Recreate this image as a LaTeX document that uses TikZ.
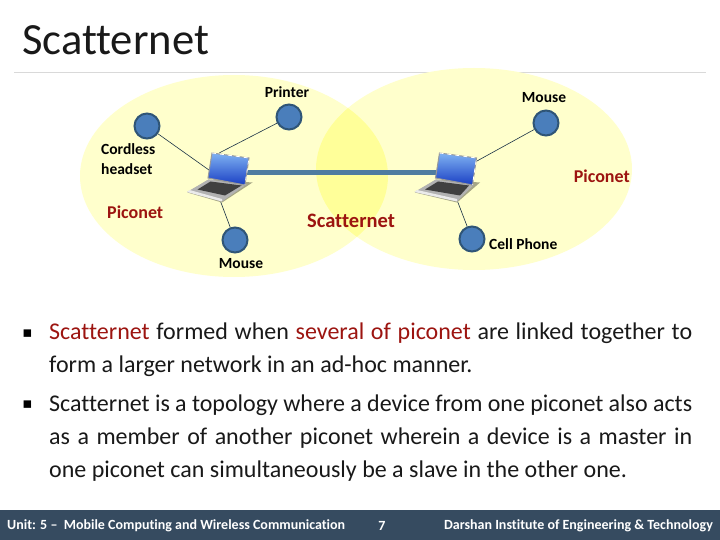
\documentclass[tikz,border=0pt]{standalone}
\usepackage{fontspec}
\setmainfont{Carlito}[Ligatures=NoCommon]
\newfontfamily\bulletfont{DejaVu Sans}
\usetikzlibrary{backgrounds}
\definecolor{piconetfill}{HTML}{FFFFCC}
\definecolor{overlapfill}{HTML}{FFFF99}
\definecolor{devicefill}{HTML}{4A7EBB}
\definecolor{devicerim}{HTML}{2F5577}
\definecolor{linkblue}{HTML}{4F7CA0}
\definecolor{wordred}{HTML}{9C1410}
\definecolor{barblue}{HTML}{364B60}
\definecolor{screentop}{HTML}{7FB2F2}
\definecolor{screenlow}{HTML}{1A3FC4}
\tikzstyle{slide}=[x=1pt, y=-1pt, font=\fontsize{14}{17}\selectfont]
\tikzstyle{device}=[circle, draw=devicerim, line width=2pt, fill=devicefill, minimum size=25pt, inner sep=0pt]
\tikzstyle{lbl}=[inner sep=0pt, align=left, text=black, font=\fontsize{15.5}{20}\selectfont\bfseries]
\tikzstyle{redlbl}=[lbl, text=wordred, font=\fontsize{18}{20}\selectfont\bfseries]
\tikzstyle{spoke}=[draw=black!40!devicerim, line width=0.6pt]
\tikzstyle{laptop}=[minimum width=65pt, minimum height=49pt, inner sep=0pt]
\tikzstyle{para}=[inner sep=0pt, anchor=north west, text width=643pt, align=justify, text=black!90, font=\fontsize{24}{33}\selectfont]
\tikzstyle{bul}=[inner sep=0pt, text=black, font=\bulletfont\fontsize{15}{20}\selectfont]
\tikzstyle{foot}=[inner sep=0pt, text=white, font=\fontsize{14}{17}\selectfont\bfseries]
\newcommand{\drawlaptop}[2]{
	\begin{scope}[shift={(#1)}]
		\fill[black!35!piconetfill] (-32,15) -- (-11,2) -- (33,5) -- (#2,25) -- cycle;
		\fill[black!30] (-32.5,14.5) -- (-11,2) -- (27,7) -- (#2,24) -- cycle;
		\fill[black!75] (-22,12) -- (-9,4) -- (22,8) -- ({#2+3},18) -- cycle;
		\fill[black!8] (-32.5,14.5) -- (#2,24) -- (#2,21.5) -- (-30,12.5) -- cycle;
		\shade[top color=screentop, bottom color=screenlow] (-7.5,-24.5) -- (29.5,-19.5) -- (25.5,7.5) -- (-11.5,0.5) -- cycle;
		\draw[black!40, line width=1pt] (-7.5,-24.5) -- (29.5,-19.5) -- (25.5,7.5) -- (-11.5,0.5) -- cycle;
		\draw[white, line width=0.8pt, dash pattern=on 4pt off 4pt] (-7.5,-24.5) -- (29.5,-19.5) -- (25.5,7.5);
	\end{scope}
}
\begin{document}
\begin{tikzpicture}[slide]
	\useasboundingbox (0,0) rectangle (720,540);
	\fill[white] (0,0) rectangle (720,540);

	%The title
	\node[inner sep=0pt, anchor=base west, text=black!90, font=\fontsize{44.6}{48}\selectfont] (title) at (22,55) {Scatternet};
	\draw[black!15, line width=0.8pt] (14,72) -- (706,72);

	%The two piconets
	\fill[piconetfill] (234,176) ellipse [x radius=154, y radius=101];
	\fill[piconetfill] (474,169) ellipse [x radius=158, y radius=101];
	\begin{scope}
		\clip (234,176) ellipse [x radius=154, y radius=101];
		\fill[overlapfill] (474,169) ellipse [x radius=158, y radius=101];
	\end{scope}

	%The devices
	\node[device] (headset) at (147,126) {};
	\node[device] (printer) at (289,117) {};
	\node[device] (mouseA) at (235,240) {};
	\node[device] (mouseB) at (546,123) {};
	\node[device] (phone) at (472,239) {};
	\node[laptop] (lapA) at (219.5,177.5) {};
	\node[laptop] (lapB) at (447,177.5) {};
	\coordinate (portA) at (230,173);
	\coordinate (portB) at (455,173);
	\coordinate (footA) at (220,200);
	\coordinate (footB) at (457,200);

	%The links
	\draw[spoke] (headset) -- (lapA.center);
	\draw[spoke] (printer) -- (lapA.north);
	\draw[spoke] (mouseA) -- (footA);
	\draw[spoke] (mouseB) -- (lapB.center);
	\draw[spoke] (phone) -- (footB);
	\draw[linkblue, line width=5pt] (portA) -- (portB);

	\drawlaptop{219.5,177.5}{2.5}
	\drawlaptop{447,177.5}{10}

	%The labels
	\node[lbl, anchor=south] (printerlbl) at (287,98) {Printer};
	\node[lbl, anchor=south] (mouseBlbl) at (544,103) {Mouse};
	\node[lbl, anchor=north west] (headsetlbl) at (101,143) {Cordless\\headset};
	\node[lbl, anchor=north] (mouseAlbl) at (241,258) {Mouse};
	\node[lbl, anchor=west] (phonelbl) at (489,244) {Cell Phone};
	\node[redlbl, anchor=west] (picoA) at (107,212) {Piconet};
	\node[redlbl, anchor=east] (picoB) at (630,176) {Piconet};
	\node[redlbl, anchor=center, font=\fontsize{20.5}{22}\selectfont\bfseries] (scatter) at (351,221) {Scatternet};

	%The text
	\node[bul] (bulA) at (27.5,334) {▪};
	\node[para] (paraA) at (49,323) {\textcolor{wordred}{Scatternet} formed when \textcolor{wordred}{several of piconet} are linked together to\linebreak form a larger network in an ad-hoc manner.};
	\node[bul] (bulB) at (27.5,405) {▪};
	\node[para] (paraB) at (49,395) {Scatternet is a topology where a device from one piconet also acts\linebreak as a member of another piconet wherein a device is a master in\linebreak one piconet can simultaneously be a slave in the other one.};

	%The footer
	\fill[barblue] (0,510) rectangle (720,540);
	\node[foot, anchor=west] (unit) at (7,526) {Unit: 5 -- \ Mobile Computing and Wireless Communication};
	\node[foot] (pageno) at (382,526) {7};
	\node[foot, anchor=east] (inst) at (713,526) {Darshan Institute of Engineering \& Technology};
\end{tikzpicture}
\end{document}
